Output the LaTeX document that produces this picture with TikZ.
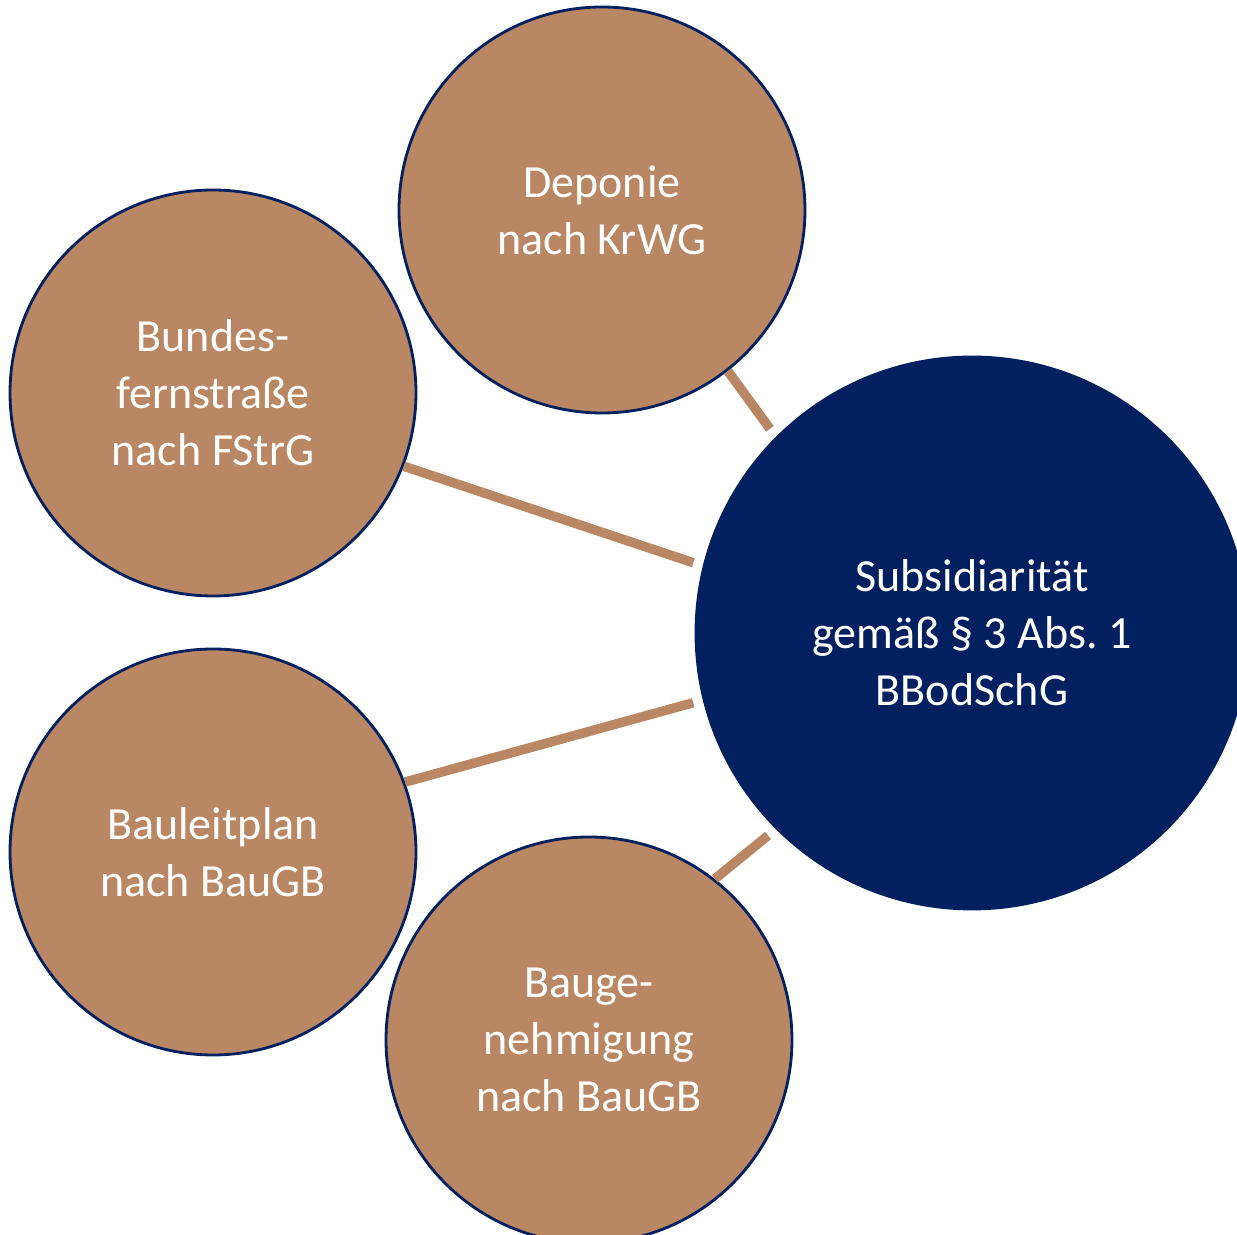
\documentclass[tikz,border=0pt]{standalone}
\usepackage{fontspec}
\setmainfont{Carlito}
\frenchspacing
\definecolor{kupfer}{RGB}{185,135,99}
\definecolor{marine}{RGB}{0,32,96}

\begin{document}
\begin{tikzpicture}[
  kreis/.style={circle,draw=marine,line width=0.8pt,fill=kupfer,minimum size=4.06cm,
    inner sep=0pt,align=center,text=white,font=\fontsize{13.1pt}{16.2pt}\selectfont},
  zentrum/.style={kreis,fill=marine,minimum size=5.52cm},
  verbindung/.style={draw=kupfer,line width=2.7pt,shorten >=0.1cm}
]
\useasboundingbox (0,0) rectangle (12.37,12.35);

% Zentraler Kreis
\node[zentrum] (sub) at (9.72,6.02) {Subsidiarität\\gemäß § 3 Abs. 1\\BBodSchG};

% Aeussere Kreise
\node[kreis] (dep) at (6.02,10.25) {Deponie\\nach KrWG};
\node[kreis] (bund) at (2.13,8.42) {Bundes-\\fernstraße\\nach FStrG};
\node[kreis] (bau) at (2.13,3.83) {Bauleitplan\\nach BauGB};
\node[kreis] (bgen) at (5.89,1.95) {Bauge-\\nehmigung\\nach BauGB};

% Verbindungen
\draw[verbindung] (dep.-52) -- (sub.135);
\draw[verbindung] (bund.-21) -- (sub.166);
\draw[verbindung] (bau.20) -- (sub.-166);
\draw[verbindung] (bgen.52) -- (sub.225);

\end{tikzpicture}
\end{document}
